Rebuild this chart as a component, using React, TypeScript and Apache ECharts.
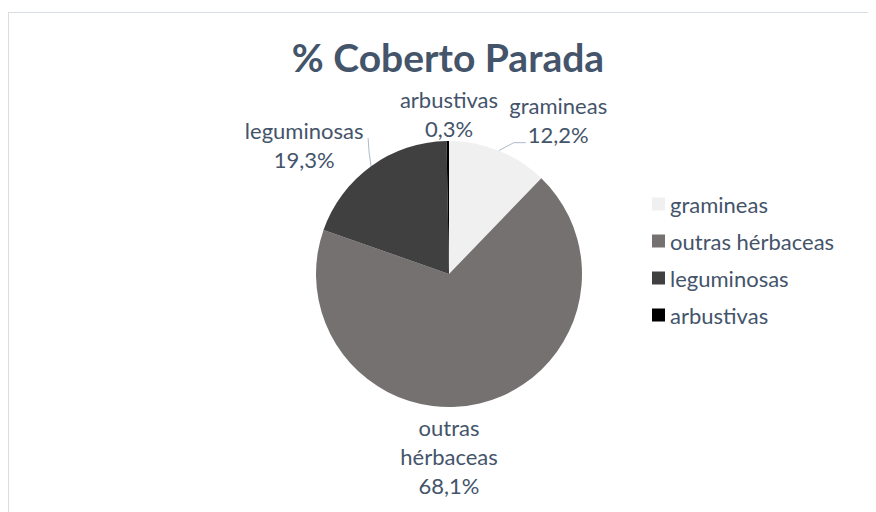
import React, { useEffect, useRef } from "react";
import * as echarts from "echarts";

const categories = ["gramineas", "outras hérbaceas", "leguminosas", "arbustivas"];
const values = [12.2, 68.1, 19.3, 0.3];
const colors = ["#F0F0F0", "#767171", "#404040", "#000000"];
const titleText = "% Coberto Parada";
// label placement around the pie: polar angle (deg) and distance from centre (px)
const labelAngles = [54.7, -90, 138.3, 90];
const labelDists = [189, 182, 194, 160];
const showLeader = [true, false, true, false];
// leader line bends: offset of the elbow from the slice edge, then of the end from the elbow
const leaderElbow: Array<[number, number]> = [[15, -8], [0, 0], [-2, -14], [0, 0]];
const leaderEnd: Array<[number, number]> = [[12, 0], [0, 0], [-1, -14], [0, 0]];

const TEXT = "#44546A";
const FONT = "Lato, 'Open Sans', sans-serif";
const CX = 440;
const CY = 261;

export default function App() {
  const ref = useRef<HTMLDivElement>(null);
  useEffect(() => {
    if (!ref.current) return;
    const chart = echarts.init(ref.current, null, { renderer: "svg" });
    chart.setOption({
      animation: false,
      backgroundColor: "#ffffff",
      title: {
        text: titleText,
        left: 434,
        top: 19,
        textAlign: "center",
        textStyle: { color: TEXT, fontSize: 39, fontWeight: "bold", fontFamily: FONT },
      },
      legend: {
        orient: "vertical",
        left: 638,
        top: 175,
        itemWidth: 13,
        itemHeight: 13,
        itemGap: 15,
        icon: "rect",
        data: categories,
        textStyle: { color: TEXT, fontSize: 22, fontFamily: FONT },
      },
      series: [
        {
          type: "pie",
          center: [CX, CY],
          radius: 133,
          startAngle: 90,
          clockwise: true,
          data: categories.map((c, i) => ({
            name: c,
            value: values[i],
            itemStyle: { color: colors[i] },
            labelLine: { show: showLeader[i] },
          })),
          label: {
            show: true,
            position: "outside",
            formatter: (p: any) => `${p.name.replace(" ", "\n")}\n${p.value.toFixed(1).replace(".", ",")}%`,
            color: TEXT,
            fontSize: 22,
            fontFamily: FONT,
            lineHeight: 29,
          },
          labelLayout: (p: any) => {
            const i = p.dataIndex;
            const a = (labelAngles[i] * Math.PI) / 180;
            const out: any = {
              x: CX + labelDists[i] * Math.cos(a),
              y: CY - labelDists[i] * Math.sin(a),
              align: "center",
              verticalAlign: "middle",
            };
            if (showLeader[i] && p.labelLinePoints && p.labelLinePoints[0]) {
              const p0 = p.labelLinePoints[0];
              const p1 = [p0[0] + leaderElbow[i][0], p0[1] + leaderElbow[i][1]];
              const p2 = [p1[0] + leaderEnd[i][0], p1[1] + leaderEnd[i][1]];
              out.labelLinePoints = [p0, p1, p2];
            }
            return out;
          },
          labelLine: { show: true, length: 8, length2: 12, lineStyle: { color: "#ADB9CA", width: 1 } },
          itemStyle: { borderWidth: 0 },
        },
      ],
    });
    return () => chart.dispose();
  }, []);
  return (
    <div
      ref={ref}
      style={{ width: 900, height: 520, marginTop: 4, border: "1px solid #D9DEE5", boxSizing: "border-box" }}
    />
  );
}
